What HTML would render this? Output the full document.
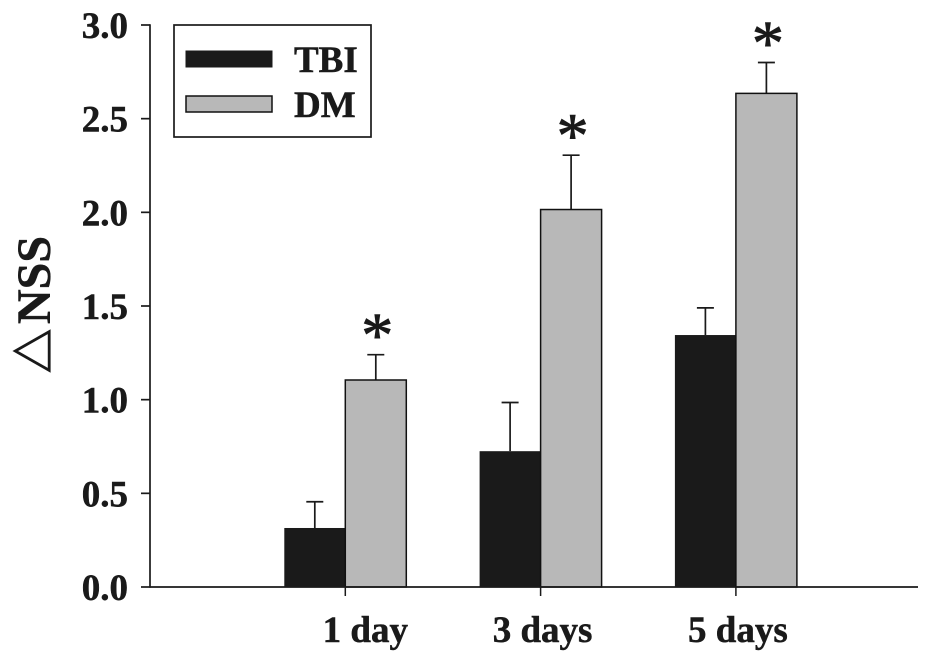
<!DOCTYPE html>
<html lang="en">
<head>
<meta charset="utf-8">
<title>NSS bar chart</title>
<style>
  html, body { margin: 0; padding: 0; background: #fff; }
  #chart { display: block; width: 945px; height: 661px; }
  text { font-family: "Liberation Serif", "Noto Sans CJK SC", serif; font-weight: bold; fill: #1a1a1a; stroke: #1a1a1a; stroke-width: 0.5px; }
</style>
</head>
<body>
<svg id="chart" xmlns="http://www.w3.org/2000/svg" width="945" height="661" viewBox="0 0 945 661">
  <g id="marks"></g>
  <g id="axes"></g>
  <text transform="translate(50,373) rotate(-90)" font-size="48"><tspan font-size="44" style="font-family:'Noto Sans CJK SC',sans-serif;font-weight:400;stroke-width:1.2px">△</tspan><tspan dx="5">NSS</tspan></text>
  <g>
    <rect x="174" y="25" width="197" height="112" fill="#fff" stroke="#1a1a1a" stroke-width="1.7"/>
    <rect x="186" y="51" width="86" height="16" fill="#1a1a1a" stroke="#1a1a1a" stroke-width="1"/>
    <text x="294" y="72" font-size="37">TBI</text>
    <rect x="186" y="96" width="86" height="16" fill="#b8b8b8" stroke="#111" stroke-width="1.5"/>
    <text x="294" y="117" font-size="37">DM</text>
  </g>
</svg>
<script>
const categories = ["1 day", "3 days", "5 days"];
const tbiValues = [0.315, 0.725, 1.345];
const tbiErrors = [0.14, 0.26, 0.145];
const dmValues = [1.105, 2.015, 2.635];
const dmErrors = [0.135, 0.29, 0.165];
const significant = ["*", "*", "*"];
const yTickValues = [0, 0.5, 1, 1.5, 2, 2.5, 3];
const yTickLabels = ["0.0", "0.5", "1.0", "1.5", "2.0", "2.5", "3.0"];

const SVG_NS = "http://www.w3.org/2000/svg";
const marks = document.getElementById("marks");
const axes = document.getElementById("axes");
const plot = { left: 150, right: 918, top: 25, bottom: 587 };
const yMax = 3;
const bandStep = 195.3;
const barWidth = 61;
const labelShift = [20, 2, 2];

function yScale(v) {
  return plot.bottom - (v / yMax) * (plot.bottom - plot.top);
}
function xScale(i) {
  return plot.left + bandStep * (i + 1);
}
function make(tag, attrs, parent) {
  const el = document.createElementNS(SVG_NS, tag);
  for (const k in attrs) el.setAttribute(k, attrs[k]);
  parent.appendChild(el);
  return el;
}

categories.forEach(function (cat, i) {
  const cx = xScale(i);
  const slug = cat.replace(" ", "-");

  // TBI error bar and bar
  const tbiCx = cx - barWidth / 2;
  const tbiTop = yScale(tbiValues[i] + tbiErrors[i]);
  const tbiStem = make("path", { d: "M" + tbiCx + " " + yScale(tbiValues[i]) + "V" + tbiTop + "M" + (tbiCx - 8.5) + " " + tbiTop + "H" + (tbiCx + 8.5), stroke: "#1a1a1a", "stroke-width": 1.7, fill: "none" }, marks);
  
  
  const tbiBar = make("rect", { x: cx - barWidth, y: yScale(tbiValues[i]), width: barWidth, height: plot.bottom - yScale(tbiValues[i]), fill: "#1a1a1a" }, marks);
  
  

  // DM error bar and bar
  const dmCx = cx + barWidth / 2;
  const dmTop = yScale(dmValues[i] + dmErrors[i]);
  const dmStem = make("path", { d: "M" + dmCx + " " + yScale(dmValues[i]) + "V" + dmTop + "M" + (dmCx - 8.5) + " " + dmTop + "H" + (dmCx + 8.5), stroke: "#1a1a1a", "stroke-width": 1.7, fill: "none" }, marks);
  
  
  const dmBar = make("rect", { x: cx, y: yScale(dmValues[i]), width: barWidth, height: plot.bottom - yScale(dmValues[i]), fill: "#b8b8b8", stroke: "#111", "stroke-width": 1.5 }, marks);
  
  

  // Significance marker
  const star = make("text", { x: dmCx + 1.5, y: dmTop + 2, "font-size": 64, "text-anchor": "middle", style: "font-weight:400;stroke-width:0.9px" }, marks);
  star.textContent = significant[i];
  
  

  // Category tick and label
  const tick = make("line", { x1: cx, x2: cx, y1: plot.bottom, y2: plot.bottom + 9, stroke: "#1a1a1a", "stroke-width": 1.5 }, axes);
  
  
  const label = make("text", { x: cx + labelShift[i], y: 642, "font-size": 37, "text-anchor": "middle" }, axes);
  label.textContent = cat;
  
  
});

const yAxisLine = make("line", { x1: plot.left, x2: plot.left, y1: plot.top - 0.75, y2: plot.bottom + 0.75, stroke: "#1a1a1a", "stroke-width": 1.7 }, axes);



const xAxisLine = make("line", { x1: plot.left, x2: plot.right, y1: plot.bottom, y2: plot.bottom, stroke: "#1a1a1a", "stroke-width": 1.7 }, axes);



yTickValues.forEach(function (v, i) {
  const y = yScale(v);
  const tick = make("line", { x1: plot.left - 9, x2: plot.left, y1: y, y2: y, stroke: "#1a1a1a", "stroke-width": 1.7 }, axes);
  
  
  const label = make("text", { x: 128, y: y + 13, "font-size": 37, "text-anchor": "end" }, axes);
  label.textContent = yTickLabels[i];
  
  
});
</script>
</body>
</html>
